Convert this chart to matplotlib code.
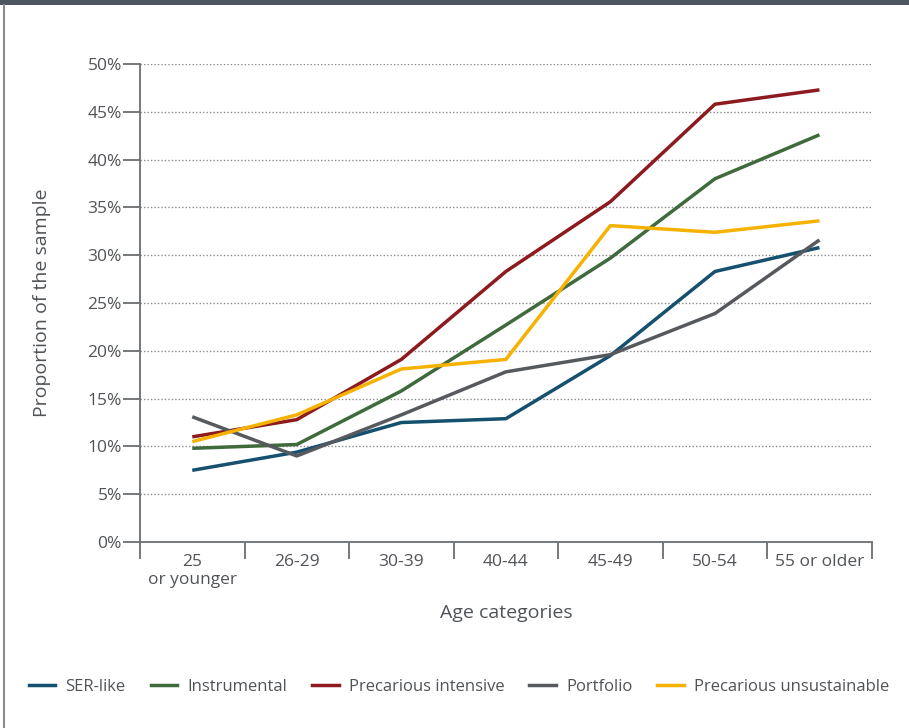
import matplotlib.pyplot as plt
from matplotlib.lines import Line2D
from matplotlib.ticker import FuncFormatter
import numpy as np

plt.rcParams['font.family'] = ['Open Sans', 'DejaVu Sans']

ages = ['25\nor younger', '26-29', '30-39', '40-44', '45-49', '50-54', '55 or older']
ser_like = [7.5, 9.4, 12.5, 12.9, 19.5, 28.3, 30.8]
instrumental = [9.8, 10.2, 15.8, 22.7, 29.7, 38.0, 42.6]
prec_intensive = [11.0, 12.8, 19.1, 28.3, 35.6, 45.8, 47.3]
portfolio = [13.1, 9.0, 13.3, 17.8, 19.6, 23.9, 31.6]
prec_unsust = [10.5, 13.3, 18.1, 19.1, 33.1, 32.4, 33.6]

series = [('SER-like', ser_like, '#15506e'),
          ('Instrumental', instrumental, '#3f6a3c'),
          ('Precarious intensive', prec_intensive, '#8c1a1f'),
          ('Portfolio', portfolio, '#56595e'),
          ('Precarious unsustainable', prec_unsust, '#f5b202')]

axis_col = '#6b6e72'
text_col = '#505357'

fig = plt.figure(figsize=(9.09, 7.28), dpi=100)
ax = fig.add_axes([0.154, 0.2555, 0.805, 0.6565])

x = np.arange(len(ages))
for name, vals, col in series:
    ax.plot(x, vals, color=col, lw=2.5, label=name, solid_capstyle='butt')

ax.set_xlim(-0.5, len(ages) - 0.5)
ax.set_ylim(0, 50)
ax.set_yticks(np.arange(0, 51, 5))
ax.yaxis.set_major_formatter(FuncFormatter(lambda v, p: f'{v:.0f}%'))
ax.set_xticks(x)
ax.set_xticklabels(ages, fontsize=12.5, color=text_col, linespacing=1.1)
ax.set_xticks(np.arange(-0.5, len(ages)), minor=True)
ax.tick_params(axis='x', which='major', length=0, pad=9)
ax.tick_params(axis='x', which='minor', length=12, width=1.3, color=axis_col)
ax.tick_params(axis='y', length=12, width=1.3, color=axis_col, labelsize=12.5,
               labelcolor=text_col, pad=1)

for v in np.arange(5, 51, 5):
    ax.axhline(v, color='#8a8a8a', lw=1, ls=(0, (1, 1.5)), zorder=0)

for s in ['top', 'right']:
    ax.spines[s].set_visible(False)
for s in ['left', 'bottom']:
    ax.spines[s].set_color(axis_col)
    ax.spines[s].set_linewidth(1.3)

ax.set_ylabel('Proportion of the sample', fontsize=14, color=text_col, labelpad=26)
ax.set_xlabel('Age categories', fontsize=14, color=text_col, labelpad=12)

handles = [Line2D([0], [0], color=c, lw=2.5) for _, _, c in series]
fig.legend(handles, [n for n, _, _ in series], loc='center', ncol=5,
           bbox_to_anchor=(0.505, 0.056), frameon=False, fontsize=12,
           handlelength=1.6, handletextpad=0.6, columnspacing=1.5,
           labelcolor=text_col)

# frame: dark band at top, thin rule on the left
fig.add_artist(plt.Rectangle((0, 0.993), 1, 0.007, transform=fig.transFigure,
                             color='#4e5560', lw=0))
fig.add_artist(Line2D([0.004, 0.004], [0, 0.993], transform=fig.transFigure,
                      color='#8a8d90', lw=1.5))

fig.savefig('out.png', dpi=100)
